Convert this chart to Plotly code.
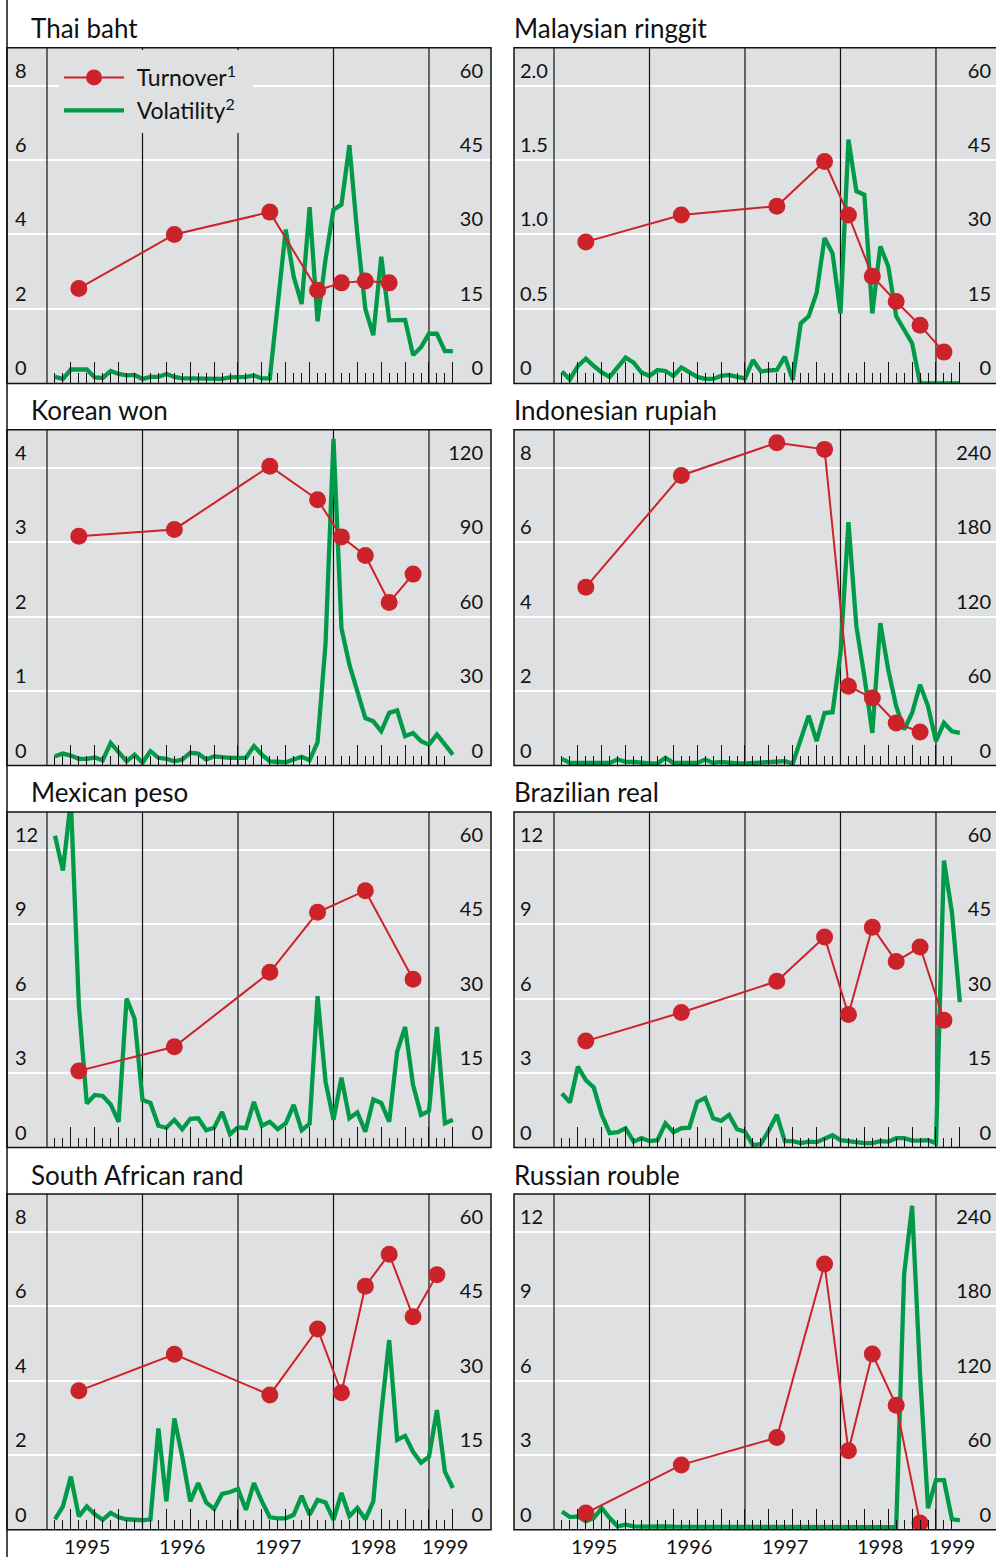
import plotly.graph_objects as go

# ---------------------------------------------------------------- data
# x = month index; 0 = start of 1995 (year boundary), 1 = Jan 1995, ...
vol_months = list(range(1, 52))
turn_months_9 = [4, 16, 28, 34, 37, 40, 43, 46, 49]
turn_months_8 = [4, 16, 28, 34, 37, 40, 43, 46]
turn_months_7 = [4, 16, 28, 34, 37, 40, 43]
turn_months_mx = [4, 16, 28, 34, 40, 46]

year_lines = [0, 12, 24, 36, 48]
quarter_ticks = [3, 6, 9, 12, 15, 18, 21, 24, 27, 30, 33, 36, 39, 42, 45, 48, 51]
month_ticks = [1, 2, 4, 5, 7, 8, 10, 11, 13, 14, 16, 17, 19, 20, 22, 23, 25, 26,
               28, 29, 31, 32, 34, 35, 37, 38, 40, 41, 43, 44, 46, 47, 49, 50, 52]
year_label_pos = [5, 17, 29, 41, 50]
year_labels = ["1995", "1996", "1997", "1998", "1999"]

titles = ["Thai baht", "Malaysian ringgit", "Korean won", "Indonesian rupiah",
          "Mexican peso", "Brazilian real", "South African rand", "Russian rouble"]

thai_turnover = [2.55, 4.0, 4.6, 2.5, 2.7, 2.75, 2.7]
thai_volatility = [1.3, 0.9, 2.8, 2.7, 2.8, 1.2, 1.1, 2.5, 1.9, 1.6,
                   1.7, 0.9, 1.3, 1.3, 1.9, 1.3, 1.0, 1.0, 1.0, 0.9,
                   0.8, 0.9, 1.2, 1.2, 1.3, 1.6, 1.0, 1.0, 16.0, 31.0,
                   21.5, 16.0, 35.5, 12.5, 25.0, 35.0, 36.0, 48.0, 30.0, 15.0,
                   9.7, 25.5, 12.7, 12.8, 12.8, 5.7, 7.3, 10.0, 10.0, 6.5, 6.5]

malaysia_turnover = [0.95, 1.13, 1.19, 1.49, 1.13, 0.72, 0.55, 0.39, 0.21]
malaysia_volatility = [2.4, 0.8, 3.5, 5.0, 3.5, 2.2, 1.3, 3.4, 5.2, 4.2,
                       2.2, 1.5, 2.7, 2.5, 1.5, 3.2, 2.2, 1.3, 0.9, 0.9,
                       1.5, 1.7, 1.3, 1.0, 4.7, 2.4, 2.6, 2.7, 5.4, 0.7,
                       12.1, 13.5, 18.2, 29.3, 26.2, 14.1, 49.1, 38.7, 38.0, 14.1,
                       27.6, 23.6, 13.5, 10.8, 8.1, 0.0, 0.0, 0.0, 0.0, 0.0, 0.0]

korea_turnover = [3.08, 3.17, 4.02, 3.57, 3.07, 2.82, 2.19, 2.57]
korea_volatility = [3.7, 4.8, 4.0, 2.7, 2.7, 3.2, 2.1, 9.1, 5.4, 1.7,
                    4.4, 1.1, 5.8, 3.1, 2.7, 1.7, 2.4, 5.1, 4.8, 2.4,
                    3.7, 3.3, 3.1, 3.1, 3.1, 7.8, 4.4, 1.7, 1.3, 1.3,
                    2.4, 3.5, 2.1, 9.4, 49.0, 131.6, 55.3, 40.6, 29.9, 19.1,
                    17.8, 13.8, 21.2, 22.2, 11.8, 13.1, 9.8, 8.4, 12.5, 8.4, 4.4]

indonesia_turnover = [4.79, 7.79, 8.67, 8.49, 2.13, 1.81, 1.14, 0.9]
indonesia_volatility = [5.4, 2.1, 2.1, 2.1, 2.1, 2.1, 2.1, 4.8, 2.9, 2.9,
                        2.1, 1.6, 1.6, 6.2, 2.1, 2.1, 2.1, 2.1, 4.8, 2.1,
                        2.9, 2.1, 1.6, 1.6, 2.1, 2.7, 2.7, 3.5, 3.5, 1.6,
                        20.9, 40.2, 19.6, 42.3, 42.9, 90.6, 196.0, 112.0, 71.8, 26.3,
                        114.7, 77.2, 47.7, 28.9, 42.3, 65.1, 47.7, 19.6, 34.3, 27.6, 26.3]

mexico_turnover = [3.09, 4.06, 7.06, 9.48, 10.35, 6.78]
mexico_volatility = [62.8, 55.8, 70.0, 28.7, 8.9, 10.6, 10.4, 8.7, 5.2, 30.0,
                     26.0, 9.6, 9.0, 4.4, 4.0, 5.6, 3.7, 5.8, 5.9, 3.5,
                     4.0, 7.2, 2.7, 4.1, 3.9, 9.2, 4.4, 5.2, 3.7, 4.9,
                     8.6, 3.5, 4.8, 30.5, 13.3, 5.6, 14.1, 5.9, 7.1, 3.2,
                     9.7, 9.0, 5.2, 19.3, 24.3, 12.6, 6.6, 7.4, 24.3, 4.9, 5.6]

brazil_turnover = [4.29, 5.44, 6.70, 8.48, 5.36, 8.88, 7.50, 8.08, 5.13]
brazil_volatility = [10.9, 9.1, 16.3, 13.6, 12.1, 6.6, 2.9, 3.1, 3.9, 1.2,
                     1.9, 1.3, 1.5, 4.9, 3.1, 3.9, 4.0, 9.2, 10.0, 5.9,
                     5.4, 6.6, 3.7, 3.2, 0.5, 0.7, 3.5, 6.6, 1.3, 1.3,
                     0.9, 1.2, 1.1, 1.7, 2.5, 1.5, 1.3, 0.9, 0.9, 0.9,
                     1.3, 1.2, 1.9, 1.9, 1.4, 1.4, 1.5, 0.9, 57.8, 47.4, 29.3]

safrica_turnover = [3.73, 4.71, 3.62, 5.39, 3.68, 6.54, 7.40, 5.72, 6.85]
safrica_volatility = [2.1, 4.7, 10.7, 2.7, 4.7, 3.1, 2.0, 3.4, 2.5, 2.1,
                      2.0, 1.9, 2.1, 20.4, 5.7, 22.4, 14.7, 5.7, 9.4, 5.5,
                      4.2, 7.2, 7.6, 8.2, 4.0, 9.4, 5.7, 2.5, 2.3, 2.3,
                      3.0, 6.8, 3.0, 6.0, 5.5, 2.0, 7.4, 2.7, 4.4, 2.1,
                      5.7, 23.5, 38.2, 18.1, 18.9, 15.7, 13.5, 14.7, 24.1, 11.7, 8.4]

russia_turnover = [0.67, 2.61, 3.71, 10.7, 3.18, 7.08, 5.01, 0.27]
russia_volatility = [14.7, 10.2, 10.7, 6.7, 9.4, 17.4, 9.4, 2.7, 4.0, 2.7,
                     2.5, 2.7, 2.4, 2.7, 2.4, 2.4, 2.7, 2.4, 2.2, 2.2,
                     2.2, 2.0, 2.2, 2.0, 2.0, 2.0, 2.0, 2.0, 2.0, 2.0,
                     2.0, 2.0, 2.0, 2.0, 2.0, 2.0, 2.0, 2.0, 2.0, 2.0,
                     2.0, 2.0, 2.0, 206.0, 261.0, 125.0, 17.4, 40.0, 40.0, 8.6, 7.5]

# axis ticks (left = turnover, right = volatility)
ticks_8 = [0, 2, 4, 6, 8]
ticks_8_text = ["0", "2", "4", "6", "8"]
ticks_2 = [0, 0.5, 1.0, 1.5, 2.0]
ticks_2_text = ["0", "0.5", "1.0", "1.5", "2.0"]
ticks_4 = [0, 1, 2, 3, 4]
ticks_4_text = ["0", "1", "2", "3", "4"]
ticks_12 = [0, 3, 6, 9, 12]
ticks_12_text = ["0", "3", "6", "9", "12"]
rticks_60 = [0, 15, 30, 45, 60]
rticks_60_text = ["0", "15", "30", "45", "60"]
rticks_120 = [0, 30, 60, 90, 120]
rticks_120_text = ["0", "30", "60", "90", "120"]
rticks_240 = [0, 60, 120, 180, 240]
rticks_240_text = ["0", "60", "120", "180", "240"]

panels = [
    (thai_turnover, turn_months_7, thai_volatility, ticks_8, ticks_8_text, rticks_60, rticks_60_text),
    (malaysia_turnover, turn_months_9, malaysia_volatility, ticks_2, ticks_2_text, rticks_60, rticks_60_text),
    (korea_turnover, turn_months_8, korea_volatility, ticks_4, ticks_4_text, rticks_120, rticks_120_text),
    (indonesia_turnover, turn_months_8, indonesia_volatility, ticks_8, ticks_8_text, rticks_240, rticks_240_text),
    (mexico_turnover, turn_months_mx, mexico_volatility, ticks_12, ticks_12_text, rticks_60, rticks_60_text),
    (brazil_turnover, turn_months_9, brazil_volatility, ticks_12, ticks_12_text, rticks_60, rticks_60_text),
    (safrica_turnover, turn_months_9, safrica_volatility, ticks_8, ticks_8_text, rticks_60, rticks_60_text),
    (russia_turnover, turn_months_8, russia_volatility, ticks_12, ticks_12_text, rticks_240, rticks_240_text),
]

# ---------------------------------------------------------------- style
W, H = 996, 1557
FONT = "Lato"
GRAY = "#dfe0e2"
RED = "#cc2229"
GREEN = "#009a48"
INK = "#111111"

col_x = [(7.0, 491.0), (514.0, 998.0)]
row_top = [47.7, 429.8, 811.9, 1194.0]
plot_h = 335.7
px_month = 7.958
m0_off = 40.0
top_pad = 1.127

fig = go.Figure()
layout = dict(
    width=W, height=H, margin=dict(l=0, r=0, t=0, b=0),
    paper_bgcolor="white", plot_bgcolor=GRAY,
    font=dict(family=FONT, size=20, color=INK),
    showlegend=True,
    legend=dict(x=59 / W, y=1 - 49.5 / H, xanchor="left", yanchor="top",
                bgcolor=GRAY, borderwidth=0, itemwidth=60,
                font=dict(family=FONT, size=23, color=INK),
                title=dict(text="\u00a0", font=dict(size=5)),
                traceorder="normal", tracegroupgap=5),
)
shapes = []
annotations = []

shapes.append(dict(type="line", xref="paper", yref="paper", x0=7 / W, x1=7 / W,
                   y0=0, y1=1, line=dict(color=INK, width=1.5)))

for i, (turn, tmonths, vol, lt, ltt, rt, rtt) in enumerate(panels):
    r, c = divmod(i, 2)
    x0, x1 = col_x[c]
    x1v = min(x1, W)
    top = row_top[r]
    n = i + 1
    xa = "x" if n == 1 else f"x{n}"
    ya = "y" if n == 1 else f"y{n}"
    yo = f"y{n + 8}"
    xkey = "xaxis" if n == 1 else f"xaxis{n}"
    ykey = "yaxis" if n == 1 else f"yaxis{n}"
    okey = f"yaxis{n + 8}"

    xr = [-m0_off / px_month, (x1v - x0 - m0_off) / px_month]
    layout[xkey] = dict(
        domain=[x0 / W, x1v / W], range=xr, anchor=ya,
        showgrid=False, zeroline=False, showline=False, showticklabels=False,
        ticks="inside", tickmode="array", tickvals=quarter_ticks,
        ticklen=21, tickwidth=1.3, tickcolor=INK,
        minor=dict(tickmode="array", tickvals=month_ticks, ticks="inside",
                   ticklen=10, tickwidth=1.3, tickcolor=INK, showgrid=False),
    )
    ydom = [1 - (top + plot_h) / H, 1 - top / H]
    rtop = max(rt) * top_pad
    rstand = 5 if c == 0 else 2
    lstand = 5 if c == 0 else 3
    layout[ykey] = dict(
        domain=ydom, anchor=xa, side="right",
        range=[0, rtop],
        tickmode="array", tickvals=rt, ticktext=rtt,
        showgrid=False, zeroline=False, showline=False, ticks="",
        ticklabelposition="inside", ticklabelshift=-15, ticklabelstandoff=rstand,
        tickfont=dict(family=FONT, size=20, color=INK),
    )
    layout[okey] = dict(
        overlaying=ya, anchor=xa, side="left",
        range=[0, max(lt) * top_pad],
        tickmode="array", tickvals=lt, ticktext=ltt,
        showgrid=True, gridcolor="white", gridwidth=1.6,
        zeroline=False, showline=False, ticks="",
        ticklabelposition="inside", ticklabelshift=-15, ticklabelstandoff=lstand,
        tickfont=dict(family=FONT, size=20, color=INK),
    )

    # year boundary rules (drawn under the data lines)
    gx, gy = [], []
    for yl in year_lines:
        gx += [yl, yl, None]
        gy += [0, rtop, None]
    fig.add_trace(go.Scatter(
        x=gx, y=gy, xaxis=xa, yaxis=ya, mode="lines", showlegend=False,
        line=dict(color=INK, width=1.2), hoverinfo="skip"))

    fig.add_trace(go.Scatter(
        x=tmonths, y=turn, xaxis=xa, yaxis=yo, mode="lines+markers",
        name="\u2004Turnover<sup>1</sup>\u00a0\u00a0", legendgroup="t", legendrank=1,
        showlegend=(i == 0), line=dict(color=RED, width=2),
        marker=dict(color=RED, size=17), hoverinfo="skip"))
    fig.add_trace(go.Scatter(
        x=vol_months, y=vol, xaxis=xa, yaxis=ya, mode="lines",
        name="\u2004Volatility<sup>2</sup>", legendgroup="v", legendrank=2,
        showlegend=(i == 0), line=dict(color=GREEN, width=4.3),
        hoverinfo="skip"))

    shapes.append(dict(type="rect", xref=f"{xa} domain", yref=f"{ya} domain",
                       x0=0, x1=1 if c == 0 else 1.05, y0=0, y1=1,
                       line=dict(color=INK, width=1.5), fillcolor="rgba(0,0,0,0)"))

    tx = 29 / W if c == 0 else 512 / W
    annotations.append(dict(
        text=titles[i], xref="paper", yref="paper", x=tx, y=1 - (top - 19.5) / H,
        xanchor="left", yanchor="middle", showarrow=False,
        font=dict(family=FONT, size=26, color=INK)))

    if r == 3:
        for pos, lab in zip(year_label_pos, year_labels):
            annotations.append(dict(
                text=lab, xref=xa, yref="paper", x=pos, y=1 - 1546 / H,
                xanchor="center", yanchor="middle", showarrow=False,
                font=dict(family=FONT, size=20, color=INK)))

layout["shapes"] = shapes
layout["annotations"] = annotations
fig.update_layout(**layout)
fig.write_html("out.html", config={"displayModeBar": False},
               post_script="document.body.style.margin='0';document.body.style.padding='0';")
